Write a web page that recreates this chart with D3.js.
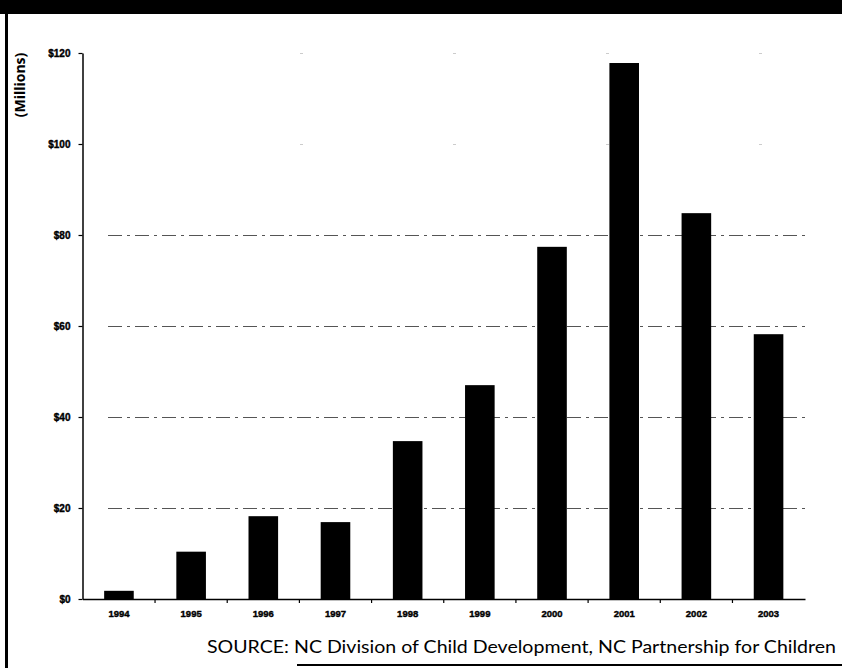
<!DOCTYPE html>
<html>
<head>
<meta charset="utf-8">
<script src="https://cdn.jsdelivr.net/npm/d3@7"></script>
<style>
  html, body { margin: 0; padding: 0; background: #fff; }
  svg { display: block; }
</style>
</head>
<body>
<svg id="chart" width="842" height="668"></svg>
<script>
const years = ["1994","1995","1996","1997","1998","1999","2000","2001","2002","2003"];
const values = [1.8, 10.4, 18.2, 16.9, 34.7, 47.0, 77.4, 117.8, 84.8, 58.2];
const yTicks = [0, 20, 40, 60, 80, 100, 120];
const yTickLabels = ["$0","$20","$40","$60","$80","$100","$120"];
const yLabel = "(Millions)";
const source = "SOURCE: NC Division of Child Development, NC Partnership for Children";

const svg = d3.select("#chart");
const W = 842, H = 668;
const m = {left: 82.5, right: 37, top: 53, bottom: 69};

svg.append("rect").attr("x",0).attr("y",0).attr("width",W).attr("height",H).attr("fill","#fff");
// top black band
svg.append("rect").attr("x",0).attr("y",0).attr("width",W).attr("height",14).attr("fill","#000");
// left border
svg.append("rect").attr("x",5).attr("y",0).attr("width",3).attr("height",H).attr("fill","#000");

const x = d3.scaleBand().domain(years).range([m.left, W - m.right]).paddingInner(0.59).paddingOuter(0.3);
const y = d3.scaleLinear().domain([0, 120]).range([H - m.bottom, m.top]);

// gridlines
const g = svg.append("g");
g.selectAll("line.grid").data(yTicks.filter(t => t > 0)).join("line")
  .attr("class","grid")
  .attr("x1", d => d >= 100 ? 300 : 108).attr("x2", W - m.right)
  .attr("y1", d => Math.round(y(d)) + 0.5).attr("y2", d => Math.round(y(d)) + 0.5)
  .attr("stroke", d => d >= 100 ? "#ccc" : "#555")
  .attr("stroke-width", 1)
  .attr("stroke-dasharray", d => d >= 100 ? "3,150" : "14,5,3,5");

// bars
svg.selectAll("rect.bar").data(years).join("rect")
  .attr("class","bar")
  .attr("x", d => x(d))
  .attr("width", x.bandwidth())
  .attr("y", (d,i) => y(values[i]))
  .attr("height", (d,i) => y(0) - y(values[i]))
  .attr("fill", "#000");

// y axis
const yAxis = d3.axisLeft(y).tickValues(yTicks).tickSize(4).tickSizeOuter(0)
  .tickFormat((d,i) => yTickLabels[i]);
const ya = svg.append("g").attr("transform", `translate(${m.left},0)`).call(yAxis);
ya.select(".domain").attr("stroke","#000").attr("stroke-width",1.5);
ya.selectAll(".tick line").attr("stroke","#000").attr("stroke-width",1.2);
ya.selectAll(".tick text")
  .attr("x", -12)
  .attr("font-family","'Liberation Sans Narrow', 'Liberation Sans', Arial, sans-serif")
  .attr("font-weight","bold").attr("font-size","10px").attr("fill","#000")
  .attr("stroke","#000").attr("stroke-width",0.4);

// x axis
const xAxis = d3.axisBottom(x).tickSize(0).tickSizeOuter(0);
const xa = svg.append("g").attr("transform", `translate(0,${y(0)})`).call(xAxis);
xa.select(".domain").attr("stroke","#000").attr("stroke-width",1.5);
xa.selectAll(".tick text")
  .attr("y", 11)
  .attr("font-family","'Liberation Sans', Arial, sans-serif")
  .attr("font-weight","bold").attr("font-size","9.5px").attr("fill","#000")
  .attr("stroke","#000").attr("stroke-width",0.4);
// boundary tick marks
const step = x.step();
xa.selectAll("line.bt").data(years.slice(1)).join("line")
  .attr("class","bt")
  .attr("x1", d => x(d) - (step - x.bandwidth()) / 2)
  .attr("x2", d => x(d) - (step - x.bandwidth()) / 2)
  .attr("y1", 0).attr("y2", 4)
  .attr("stroke","#000").attr("stroke-width",1.2);

// y label
svg.append("text")
  .attr("transform", "translate(25,85) rotate(-90)")
  .attr("text-anchor","middle")
  .attr("font-family","'Open Sans', 'DejaVu Sans', sans-serif")
  .attr("font-weight","bold").attr("font-size","14px").attr("fill","#000")
  .text(yLabel);

// source
svg.append("text")
  .attr("x", 207).attr("y", 653)
  .attr("font-family","Lato, 'Open Sans', sans-serif")
  .attr("font-size","17.5px").attr("fill","#000")
  .attr("textLength", 629).attr("lengthAdjust","spacingAndGlyphs")
  .text(source);

// bottom rule
svg.append("line").attr("x1",297).attr("x2",W).attr("y1",665).attr("y2",665)
  .attr("stroke","#000").attr("stroke-width",2);
</script>
</body>
</html>
